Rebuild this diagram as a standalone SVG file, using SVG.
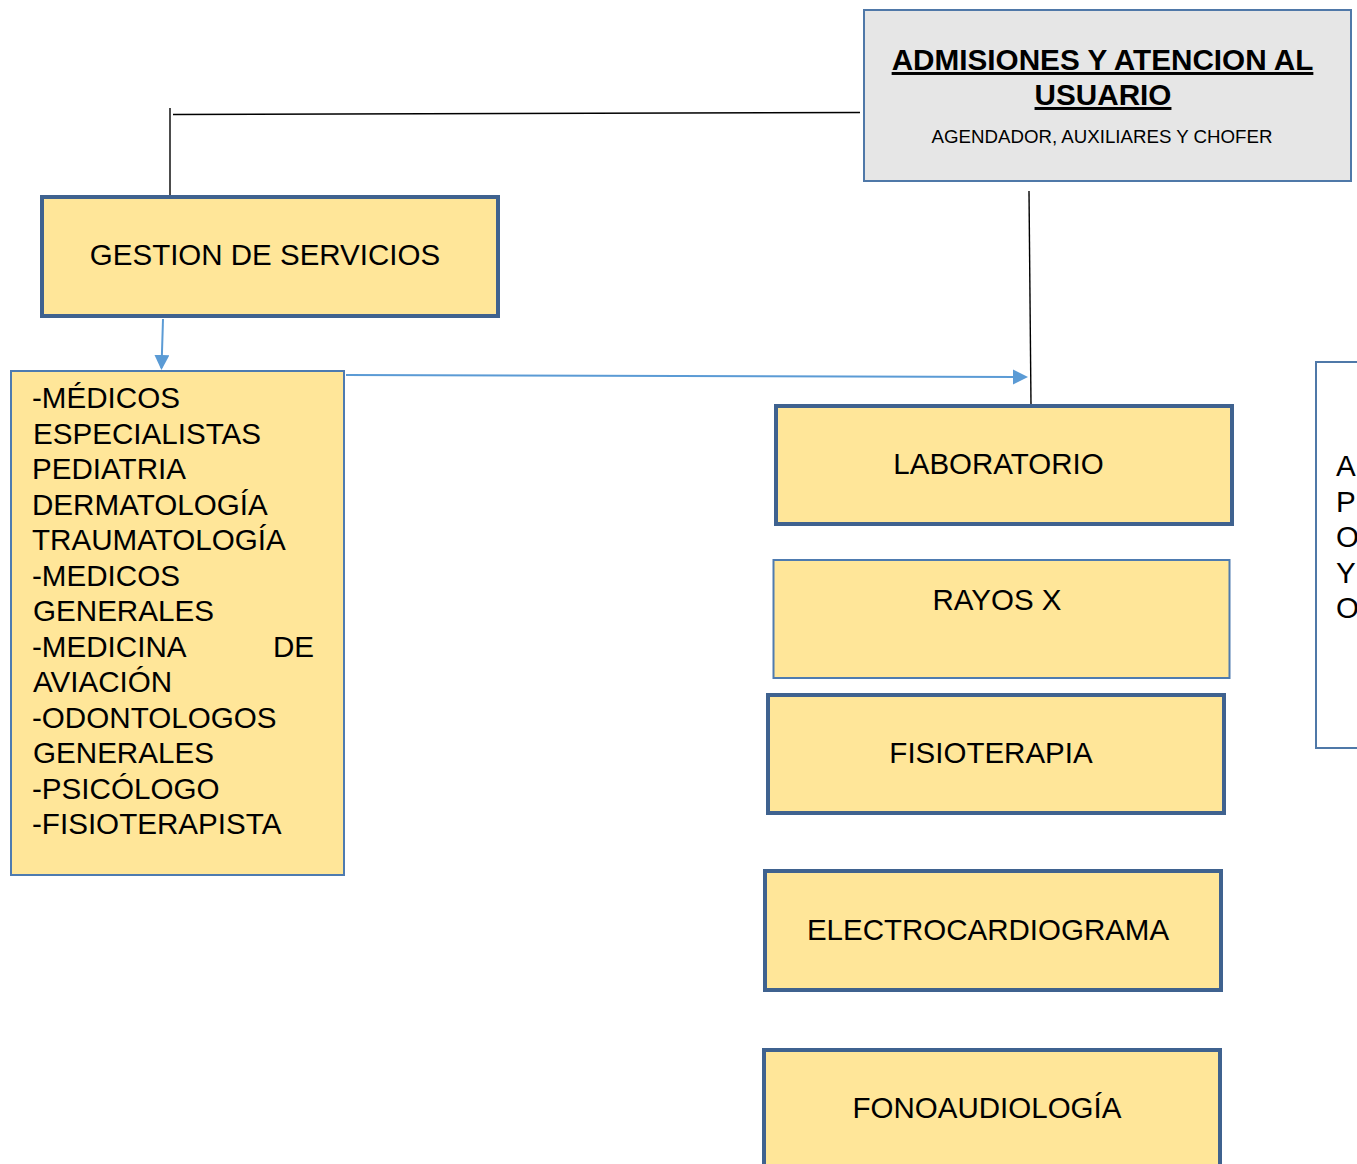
<svg xmlns="http://www.w3.org/2000/svg" width="1357" height="1164" viewBox="0 0 1357 1164">
<style>
  text { font-family: "Liberation Sans", Arial, sans-serif; fill: #000; }
  .box { fill: #ffe699; }
  .thick { stroke: #3f628f; stroke-width: 4; }
  .thin { stroke: #4e7bb0; stroke-width: 2; }
  .lbl { font-size: 29.5px; text-anchor: middle; }
  .lst { font-size: 29.6px; }
  .ttl { font-size: 29.7px; font-weight: bold; text-anchor: middle; text-decoration: underline; }
  .blk { stroke: #000; stroke-width: 1.4; fill: none; }
  .blu { stroke: #5b9bd5; stroke-width: 2; fill: none; marker-end: url(#ah); }
</style>
<defs>
  <marker id="ah" markerUnits="userSpaceOnUse" markerWidth="16" markerHeight="16" refX="13" refY="7.5" orient="auto">
    <path d="M0,0 L15,7.5 L0,15 z" fill="#5b9bd5"/>
  </marker>
</defs>
<rect width="1357" height="1164" fill="#fff"/>

<g id="connectors">
  <line class="blk" x1="170" y1="108" x2="170" y2="196"/>
  <line class="blk" x1="173" y1="114.5" x2="860" y2="112.5"/>
  <line class="blk" x1="1029" y1="191" x2="1031" y2="405"/>
  <line class="blu" x1="163" y1="319" x2="161.5" y2="368"/>
  <line class="blu" x1="346" y1="375" x2="1026" y2="377"/>
</g>

<g id="admisiones">
  <rect x="864" y="10" width="487" height="171" fill="#e6e6e6" stroke="#4f78a8" stroke-width="2"/>
  <text class="ttl" x="1102.5" y="70">ADMISIONES Y ATENCION AL</text>
  <text class="ttl" x="1103" y="105">USUARIO</text>
  <text x="1102" y="143" font-size="18.7" text-anchor="middle">AGENDADOR, AUXILIARES Y CHOFER</text>
</g>

<g id="gestion">
  <rect class="box thick" x="42" y="197" width="456" height="119"/>
  <text class="lbl" x="265" y="265">GESTION DE SERVICIOS</text>
</g>

<g id="medicos">
  <rect class="box thin" x="11" y="371" width="333" height="504"/>
  <text class="lst" x="32" y="408">-MÉDICOS</text>
  <text class="lst" x="33" y="443.5">ESPECIALISTAS</text>
  <text class="lst" x="32" y="479">PEDIATRIA</text>
  <text class="lst" x="32" y="514.5">DERMATOLOGÍA</text>
  <text class="lst" x="32" y="550">TRAUMATOLOGÍA</text>
  <text class="lst" x="32" y="585.5">-MEDICOS</text>
  <text class="lst" x="33" y="621">GENERALES</text>
  <text class="lst" x="32" y="656.5">-MEDICINA</text>
  <text class="lst" x="314" y="656.5" text-anchor="end">DE</text>
  <text class="lst" x="33" y="692">AVIACIÓN</text>
  <text class="lst" x="32" y="727.5">-ODONTOLOGOS</text>
  <text class="lst" x="33" y="763">GENERALES</text>
  <text class="lst" x="32" y="798.5">-PSICÓLOGO</text>
  <text class="lst" x="32" y="834">-FISIOTERAPISTA</text>
</g>

<g id="laboratorio">
  <rect class="box thick" x="776" y="406" width="456" height="118"/>
  <text class="lbl" x="998.5" y="474">LABORATORIO</text>
</g>

<g id="rayos">
  <rect class="box thin" x="773.5" y="560" width="456" height="118"/>
  <text class="lbl" x="997" y="610">RAYOS X</text>
</g>

<g id="fisioterapia">
  <rect class="box thick" x="768" y="695" width="456" height="118"/>
  <text class="lbl" x="991" y="763">FISIOTERAPIA</text>
</g>

<g id="electro">
  <rect class="box thick" x="765" y="871" width="456" height="119"/>
  <text class="lbl" x="988" y="940">ELECTROCARDIOGRAMA</text>
</g>

<g id="fono">
  <rect class="box thick" x="764" y="1050" width="456" height="130"/>
  <text class="lbl" x="987" y="1118">FONOAUDIOLOGÍA</text>
</g>

<g id="apoyo">
  <rect x="1316" y="362" width="100" height="386" fill="#fff" stroke="#4f78a8" stroke-width="2"/>
  <text class="lst" x="1336" y="476">A</text>
  <text class="lst" x="1336" y="511.5">P</text>
  <text class="lst" x="1336" y="547">O</text>
  <text class="lst" x="1336" y="582.5">Y</text>
  <text class="lst" x="1336" y="618">O</text>
</g>
</svg>
